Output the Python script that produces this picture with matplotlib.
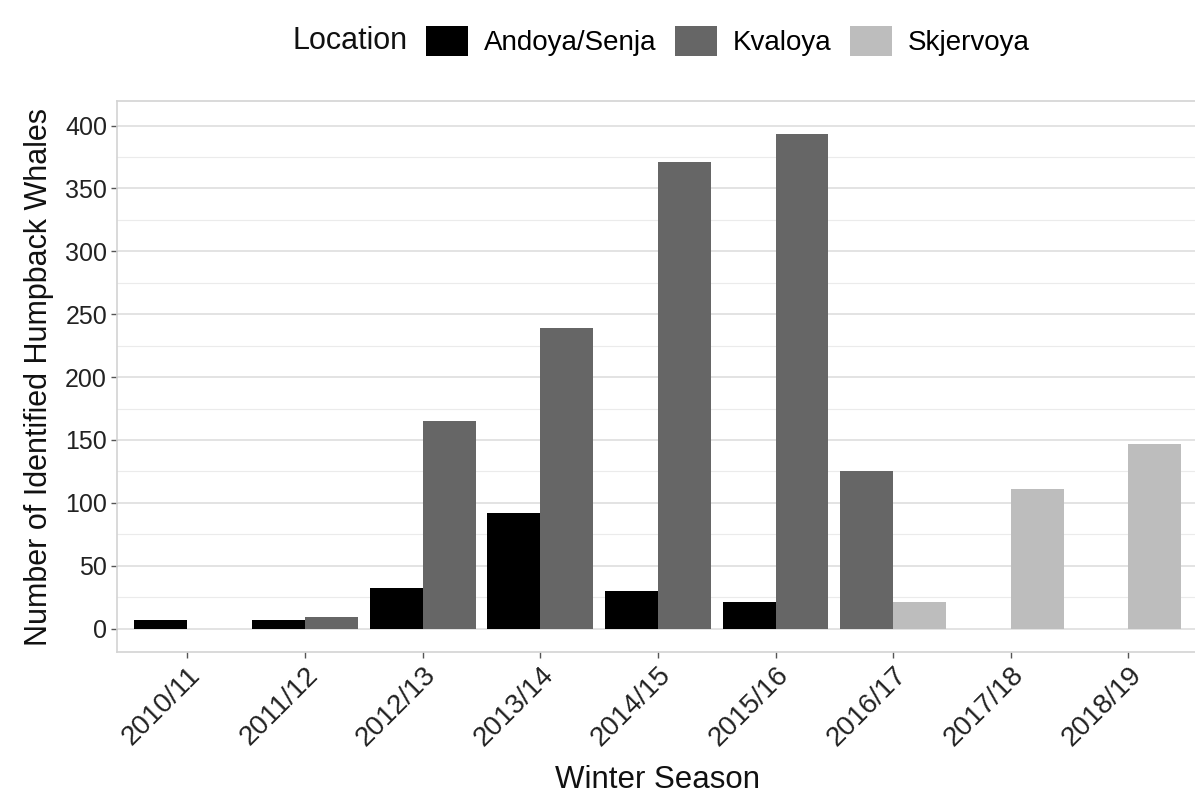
import matplotlib.pyplot as plt
import numpy as np
from matplotlib.patches import Patch

plt.rcParams["font.family"] = ["Liberation Sans", "DejaVu Sans"]

# whale counts per winter season and site (nan = site not surveyed that season)
seasons = ["2010/11", "2011/12", "2012/13", "2013/14", "2014/15",
           "2015/16", "2016/17", "2017/18", "2018/19"]
locations = ["Andoya/Senja", "Kvaloya", "Skjervoya"]
andoya = [7, 7, 32, 92, 30, 21, np.nan, np.nan, np.nan]
kvaloya = [0, 9, 165, 239, 371, 393, 125, 0, 0]
skjervoya = [np.nan, np.nan, np.nan, np.nan, np.nan, np.nan, 21, 111, 147]
colors = ["#000000", "#666666", "#bdbdbd"]

counts = np.array([andoya, kvaloya, skjervoya], dtype=float)

fig = plt.figure(figsize=(11.95, 7.99), dpi=100)
ax = fig.add_axes([0.0977, 0.1836, 0.9057, 0.69])

# dodge like ggplot: every season splits 0.9 between the sites it has
width_total = 0.9
for i in range(len(seasons)):
    present = [k for k in range(len(locations)) if not np.isnan(counts[k, i])]
    w = width_total / len(present)
    for j, k in enumerate(present):
        x = i - width_total / 2 + w * (j + 0.5)
        ax.bar(x, counts[k, i], width=w, color=colors[k], linewidth=0, zorder=3)

ax.set_xlim(-0.6, len(seasons) - 0.4)
ax.set_ylim(-18.9, 419.6)
ax.set_xticks(range(len(seasons)))
ax.set_xticklabels(seasons, rotation=45, ha="right", va="top",
                   rotation_mode="anchor")
ax.set_yticks(np.arange(0, 401, 50))
ax.set_yticks(np.arange(25, 401, 50), minor=True)

ax.grid(axis="y", which="major", color="#dedede", linewidth=1.2, zorder=0)
ax.grid(axis="y", which="minor", color="#ebebeb", linewidth=0.8, zorder=0)
ax.grid(axis="x", visible=False)
for s in ax.spines.values():
    s.set_color("#d3d3d3")
    s.set_linewidth(1.2)

ax.tick_params(axis="both", which="major", length=4, width=1, color="#555555",
               labelcolor="#222222", pad=3)
ax.tick_params(axis="y", labelsize=18)
ax.tick_params(axis="x", labelsize=20)
ax.tick_params(axis="y", which="minor", length=0)

ax.set_xlabel("Winter Season", fontsize=22.5, color="#111111", labelpad=10)
ax.set_ylabel("Number of Identified Humpback Whales", fontsize=22,
              color="#111111", labelpad=8)

handles = [Patch(facecolor=c, edgecolor="none") for c in colors]
fig.text(0.2444, 0.949, "Location", fontsize=22, color="#111111",
         va="center", ha="left")
fig.legend(handles, locations, loc="center left", bbox_to_anchor=(0.3565, 0.949),
           ncol=3, frameon=False, fontsize=20, handlelength=1.5,
           handleheight=1.3, handletextpad=0.6, columnspacing=0.65,
           borderaxespad=0, borderpad=0)

fig.savefig("out.png", dpi=100)
